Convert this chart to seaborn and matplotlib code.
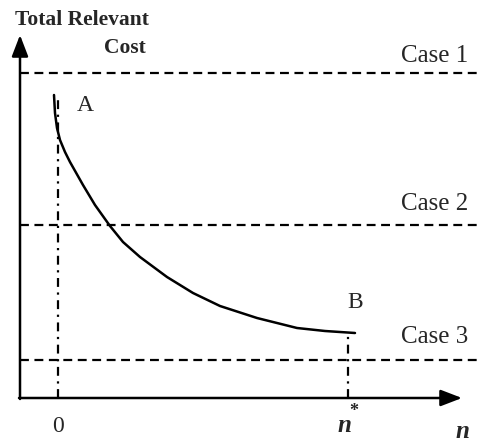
import pandas as pd
import matplotlib
matplotlib.use("Agg")
import matplotlib.pyplot as plt
import seaborn as sns

# curve points (diagram units: origin at the axes corner)
curve_n = [34, 35, 37, 40, 45, 50, 63, 75, 90, 103, 120, 147, 173, 200, 237, 277, 305, 335]
curve_cost = [303, 285, 270, 258, 246, 236, 213, 193, 172, 156, 141, 121, 105, 92, 80, 70, 67, 65]

case_levels = [325, 173, 38]
case_labels = ["Case 1", "Case 2", "Case 3"]
case_text_y = [336, 188, 55]

n_zero = 38
n_star = 328

sns.set_style("white")
plt.rcParams["font.family"] = ["Liberation Serif", "DejaVu Serif"]

fig = plt.figure(figsize=(4.82, 4.43), dpi=100)
ax = fig.add_axes([0, 0, 1, 1])
ax.set_xlim(-20, 462)
ax.set_ylim(-45, 398)
ax.axis("off")

df = pd.DataFrame({"n": curve_n, "cost": curve_cost})
sns.lineplot(data=df, x="n", y="cost", ax=ax, color="black", lw=1.8, sort=False)

# axes with arrow heads
arr = dict(arrowstyle="-|>,head_length=1.3,head_width=0.5",
           color="black", lw=1.8, shrinkA=0, shrinkB=0)
ax.annotate("", xy=(0, 363), xytext=(0, -1), arrowprops=arr)
ax.annotate("", xy=(442, 0), xytext=(-1, 0), arrowprops=arr)

# cases
for lvl, lab, ty in zip(case_levels, case_labels, case_text_y):
    ax.plot([0, 470], [lvl, lvl], color="black", lw=1.6, ls=(0, (4, 2.5)))
    ax.text(448, ty, lab, ha="right", va="baseline", fontsize=18)

# vertical guides
ax.plot([n_zero, n_zero], [0, 303], color="black", lw=1.6, ls=(0, (4, 2.5, 1, 2.5)))
ax.plot([n_star, n_star], [0, 65], color="black", lw=1.6, ls=(0, (4, 2.5, 1, 2.5)))

ax.text(62, 378, "Total Relevant", ha="center", va="center", fontsize=15.5,
        fontweight="bold")
ax.text(105, 350, "Cost", ha="center", va="center", fontsize=15.5,
        fontweight="bold")
ax.text(65, 293, "A", ha="center", va="center", fontsize=17)
ax.text(335, 95, "B", ha="center", va="center", fontsize=17)
ax.text(n_zero, -28, "0", ha="center", va="center", fontsize=17)
ax.text(n_star - 4, -28, "n", ha="center", va="center", fontsize=18,
        fontstyle="italic", fontweight="bold")
ax.text(n_star + 6, -14, "*", ha="center", va="center", fontsize=13,
        fontweight="bold")
ax.text(442, -34, "n", ha="center", va="center", fontsize=18,
        fontstyle="italic", fontweight="bold")

fig.savefig("out.png", dpi=100)
